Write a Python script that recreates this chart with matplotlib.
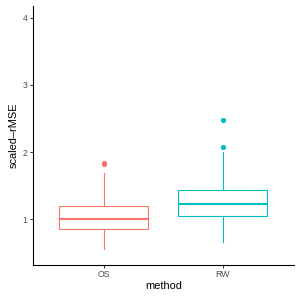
import matplotlib
matplotlib.use("Agg")
import matplotlib.pyplot as plt

methods = ["OS", "RW"]
colors = ["#F8766D", "#00BFC4"]
whisker_low = [0.55, 0.665]
q1 = [0.86, 1.05]
median = [1.005, 1.228]
q3 = [1.19, 1.437]
whisker_high = [1.685, 2.0]
outliers = [[1.82, 1.84], [2.075, 2.48]]
y_ticks = [1, 2, 3, 4]

plt.rcParams['font.family'] = ['Liberation Sans', 'DejaVu Sans']
fig = plt.figure(figsize=(301/72, 301/72), dpi=72)
ax = fig.add_axes([32.5/301, 1-265/301, (294-32.5)/301, (265-6)/301])

positions = list(range(1, len(methods)+1))
for i, m in enumerate(methods):
    st = [dict(med=median[i], q1=q1[i], q3=q3[i], whislo=whisker_low[i],
               whishi=whisker_high[i], fliers=outliers[i], label=m)]
    ax.bxp(st, positions=[positions[i]], widths=0.75, showcaps=False,
           patch_artist=True,
           boxprops=dict(facecolor='white', edgecolor=colors[i], linewidth=1.1),
           whiskerprops=dict(color=colors[i], linewidth=1.1),
           medianprops=dict(color=colors[i], linewidth=2.1, solid_capstyle='butt'),
           flierprops=dict(marker='o', markerfacecolor=colors[i],
                           markeredgecolor=colors[i], markersize=4.2,
                           linestyle='none'),
           manage_ticks=False)

ax.set_xlim(0.4, 2.6)
ax.set_ylim(0.318, 4.175)
ax.set_xticks(positions)
ax.set_xticklabels(methods)
ax.set_yticks(y_ticks)
ax.set_yticklabels([str(t) for t in y_ticks])
for s in ['top', 'right']:
    ax.spines[s].set_visible(False)
for s in ['left', 'bottom']:
    ax.spines[s].set_linewidth(1.1)
    ax.spines[s].set_color('black')
ax.tick_params(axis='both', length=2.7, width=1.0, color='#333333',
               labelcolor='#4D4D4D', labelsize=8.8, pad=2.2)
ax.set_xlabel("method", fontsize=11, color='black', labelpad=2.5)
ax.set_ylabel("scaled\u2013rMSE", fontsize=11, color='black', labelpad=4)

fig.savefig("out.png", dpi=72)
